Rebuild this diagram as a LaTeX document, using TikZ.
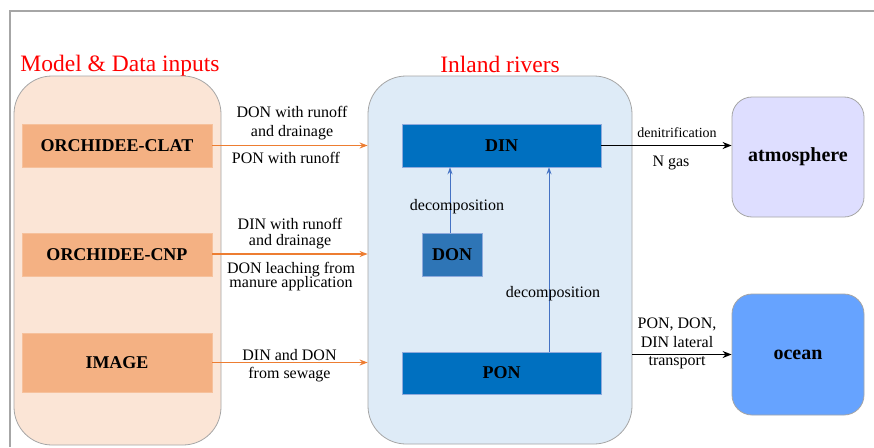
\documentclass[tikz,border=0pt]{standalone}
\usepackage{fontspec}
\setmainfont{Liberation Serif}
\usetikzlibrary{arrows.meta}
\definecolor{peach}{HTML}{FBE5D6}
\definecolor{salmon}{HTML}{F4B183}
\definecolor{paleblue}{HTML}{DEEBF7}
\definecolor{deepblue}{HTML}{0070C0}
\definecolor{midblue}{HTML}{2E75B6}
\definecolor{arrowblue}{HTML}{4472C4}
\definecolor{orangeline}{HTML}{ED7D31}
\definecolor{lavender}{HTML}{DEDEFF}
\definecolor{oceanblue}{HTML}{66A3FF}
\definecolor{edgegrey}{HTML}{A6A6A6}
\tikzset{
  groupbox/.style={draw=edgegrey, line width=0.8pt, rounded corners=38pt, inner sep=0pt},
  srcbox/.style={fill=salmon, draw=salmon!80!white, line width=0.6pt, inner sep=0pt, minimum width=190pt, font=\fontsize{18}{20}\selectfont\bfseries},
  poolbox/.style={inner sep=0pt, font=\fontsize{18}{20}\selectfont\bfseries, draw=arrowblue!60, line width=0.5pt},
  sinkbox/.style={draw=edgegrey, line width=0.8pt, rounded corners=20pt, inner sep=0pt, minimum width=132pt, font=\fontsize{20}{22}\selectfont\bfseries},
  lbl/.style={anchor=base, inner sep=0pt, font=\fontsize{16}{19}\selectfont},
  smalllbl/.style={anchor=base, inner sep=0pt, font=\fontsize{14}{17}\selectfont},
  title/.style={anchor=base, inner sep=0pt, text=red, font=\fontsize{23.5}{26}\selectfont},
  oarrow/.style={draw=orangeline, line width=1.5pt, -{Stealth[length=8pt,width=6pt]}},
  barrow/.style={draw=arrowblue, line width=1pt, -{Stealth[length=7pt,width=5pt]}},
  karrow/.style={draw=black, line width=1.8pt, -{Stealth[length=9pt,width=7pt]}},
}
\begin{document}
\begin{tikzpicture}[x=1pt,y=-1pt]
\useasboundingbox (0,0) rectangle (874,447);
\fill[white] (0,0) rectangle (874,447);
% frame
\draw[edgegrey, line width=1.5pt] (10,447) -- (10,11) -- (874,11);

% titles
\node[title] (t1) at (120,71) {Model \& Data inputs};
\node[title] (t2) at (500,72) {Inland rivers};

% group boxes
\node[groupbox, fill=peach, minimum width=207pt, minimum height=369pt] (inputs) at (117.5,260.5) {};
\node[groupbox, fill=paleblue, minimum width=264pt, minimum height=368pt] (rivers) at (500,260) {};

% source boxes
\node[srcbox, minimum height=43pt] (clat) at (117,145.5) {ORCHIDEE-CLAT};
\node[srcbox, minimum height=43pt] (cnp) at (117,254.5) {ORCHIDEE-CNP};
\node[srcbox, minimum height=59pt] (image) at (117,362.5) {IMAGE};

% pools
\node[poolbox, fill=deepblue, minimum width=199pt, minimum height=43pt] (din) at (501.5,145.5) {DIN};
\node[poolbox, fill=midblue, minimum width=60pt, minimum height=43pt] (don) at (452,254.5) {DON};
\node[poolbox, fill=deepblue, minimum width=199pt, minimum height=42pt] (pon) at (501.5,373) {PON};

% sinks
\node[sinkbox, fill=lavender, minimum height=120pt] (atm) at (798,157) {atmosphere};
\node[sinkbox, fill=oceanblue, minimum height=121pt] (ocean) at (798,354.5) {ocean};

% input arrows
\draw[oarrow] (clat.east) -- (clat.east -| rivers.west);
\draw[oarrow] ([yshift=0.5pt]cnp.east) -- ([yshift=0.5pt]cnp.east -| rivers.west);
\draw[oarrow] (image.east) -- (image.east -| rivers.west);

% input labels
\node[lbl] (l1a) at (292,117.3) {DON with runoff};
\node[lbl] (l1b) at (292,136) {and drainage};
\node[lbl] (l1c) at (286,163.3) {PON with runoff};
\node[lbl] (l2a) at (290,229.3) {DIN with runoff};
\node[lbl] (l2b) at (290,245.7) {and drainage};
\node[lbl] (l2c) at (291,273.3) {DON leaching from};
\node[lbl] (l2d) at (291,287.7) {manure application};
\node[lbl] (l3a) at (289.5,360) {DIN and DON};
\node[lbl] (l3b) at (289.5,378.3) {from sewage};

% decomposition arrows
\draw[barrow] ([xshift=-2pt]don.north) -- ([xshift=-2pt]don.north |- din.south);
\draw[barrow] ([xshift=47.5pt]pon.north) -- ([xshift=47.5pt]din.south);
\node[lbl] (dec1) at (457,210.7) {decomposition};
\node[lbl] (dec2) at (553,297.7) {decomposition};

% outputs
\draw[karrow] (din.east) -- (din.east -| atm.west);
\node[smalllbl] (den) at (677,137.3) {denitrification};
\node[lbl] (ngas) at (671,166.7) {N gas};

\draw[karrow] (ocean.west -| rivers.east) -- (ocean.west);
\node[lbl] (o1) at (677,328.3) {PON, DON,};
\node[lbl] (o2) at (677,347.3) {DIN lateral};
\node[lbl] (o3) at (677,365.7) {transport};
\end{tikzpicture}
\end{document}
